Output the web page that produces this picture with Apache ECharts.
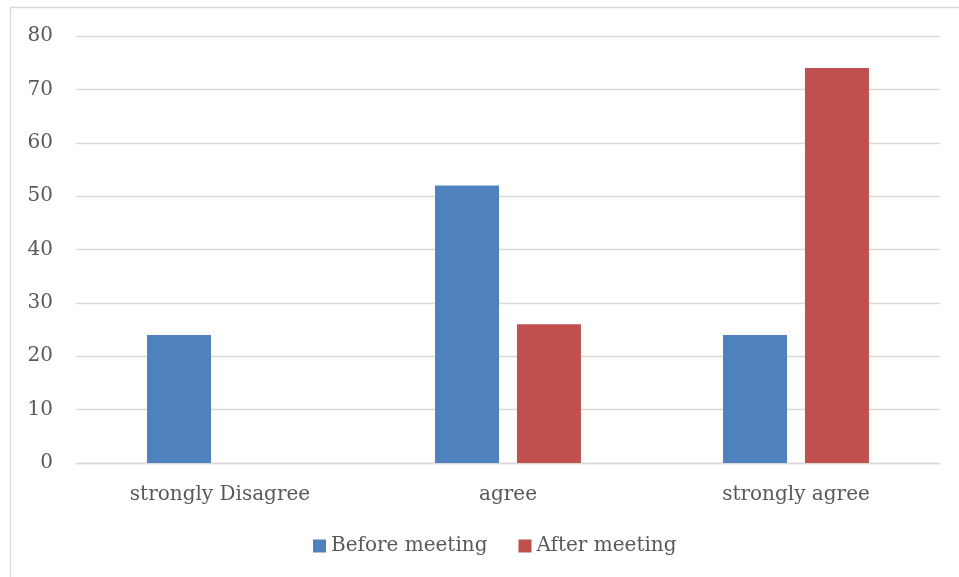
<!DOCTYPE html>
<html><head><meta charset="utf-8">
<script src="https://cdn.jsdelivr.net/npm/echarts@6/dist/echarts.min.js"></script>
<style>html,body{margin:0;padding:0;background:#fff}#c{width:959px;height:577px}</style>
</head><body><div id="c"></div>
<script>
const categories = ['strongly Disagree', 'agree', 'strongly agree'];
const beforeMeeting = [24, 52, 24];
const afterMeeting = [null, 26, 74];
const seriesNames = ['Before meeting', 'After meeting'];

const FONT = 'DejaVu Serif';
const TXT = '#595959';
const chart = echarts.init(document.getElementById('c'), null, {renderer: 'canvas'});
chart.setOption({
  animation: false,
  backgroundColor: '#fff',
  graphic: [{
    type: 'polyline', silent: true,
    shape: {points: [[10.5, 580], [10.5, 7.5], [965, 7.5]]},
    style: {stroke: '#d9d9d9', lineWidth: 1.3, fill: null}
  }],
  grid: {left: 76, right: 19, top: 36, bottom: 114, containLabel: false},
  legend: {
    data: seriesNames,
    bottom: 16, left: 308,
    itemWidth: 13, itemHeight: 13, itemGap: 31, icon: 'rect',
    textStyle: {fontFamily: FONT, fontSize: 20, color: TXT}
  },
  xAxis: {
    type: 'category', data: categories,
    axisLine: {lineStyle: {color: '#d9d9d9', width: 1.3}},
    axisTick: {show: false},
    axisLabel: {fontFamily: FONT, fontSize: 20, color: TXT, margin: 22}
  },
  yAxis: {
    type: 'value', min: 0, max: 80, interval: 10,
    axisLine: {show: false}, axisTick: {show: false},
    splitLine: {lineStyle: {color: '#d9d9d9', width: 1.3}},
    axisLabel: {fontFamily: FONT, fontSize: 20, color: TXT, margin: 23}
  },
  series: [
    {name: seriesNames[0], type: 'bar', data: beforeMeeting, barWidth: 64, barGap: '28%', itemStyle: {color: '#4F81BD'}},
    {name: seriesNames[1], type: 'bar', data: afterMeeting, barWidth: 64, itemStyle: {color: '#C0504D'}}
  ]
});
</script></body></html>
